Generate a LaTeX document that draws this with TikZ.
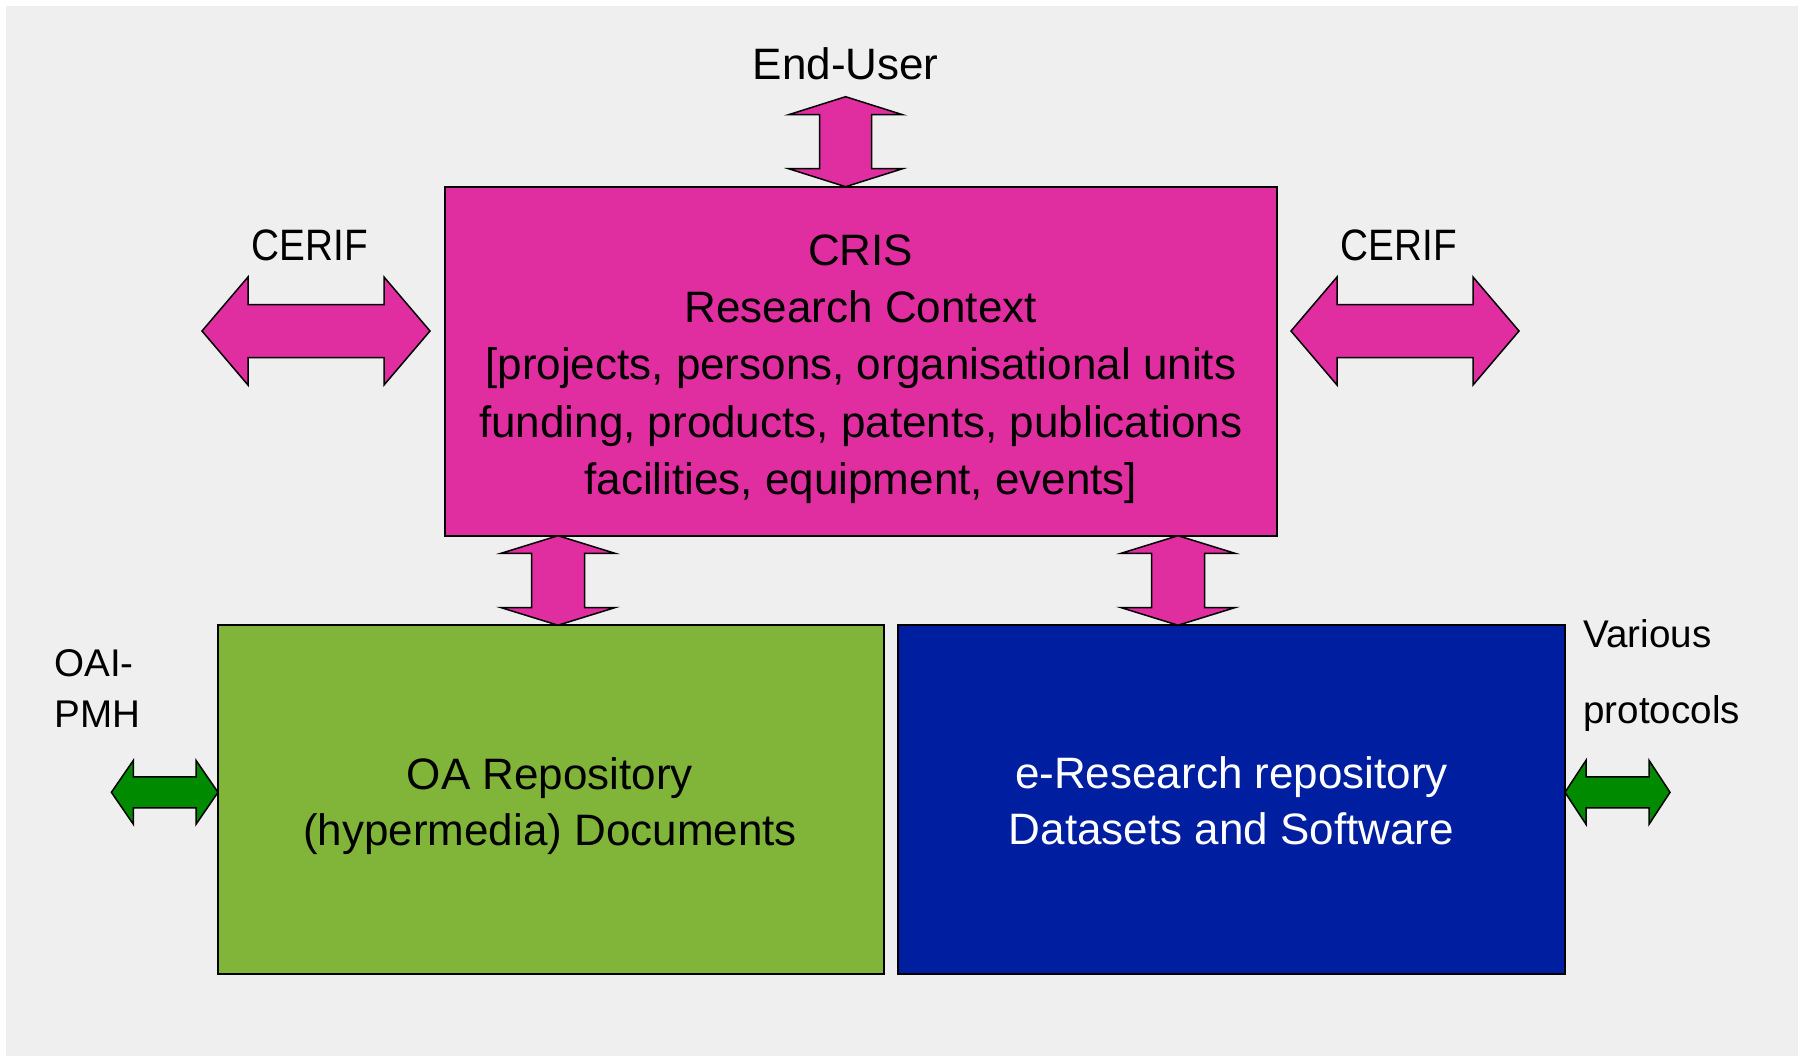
\documentclass[tikz,border=0pt]{standalone}
\usepackage{fontspec}
\setmainfont{Liberation Sans}
\usetikzlibrary{calc}
\definecolor{bggrey}{HTML}{EFEFEF}
\definecolor{crispink}{HTML}{E02DA0}
\definecolor{oagreen}{HTML}{80B53A}
\definecolor{erblue}{HTML}{001EA0}
\definecolor{arrgreen}{HTML}{008A00}
% vertical fat double arrow: style, top tip coordinate, length, head length, wing half-width, shaft half-width
\newcommand\fatvarrow[6]{%
  \draw[#1,shift={(#2)}] (0,0) -- (#5,#4) -- (#6,#4) -- (#6,#3-#4) -- (#5,#3-#4) -- (0,#3)
    -- (-#5,#3-#4) -- (-#6,#3-#4) -- (-#6,#4) -- (-#5,#4) -- cycle;}
% horizontal fat double arrow: style, left tip coordinate, length, head length, wing half-height, shaft half-height
\newcommand\fatharrow[6]{%
  \draw[#1,shift={(#2)}] (0,0) -- (#4,-#5) -- (#4,-#6) -- (#3-#4,-#6) -- (#3-#4,-#5) -- (#3,0)
    -- (#3-#4,#5) -- (#3-#4,#6) -- (#4,#6) -- (#4,#5) -- cycle;}
\begin{document}
\begin{tikzpicture}[x=0.5pt,y=-0.5pt,
  box/.style={draw=black,line width=1pt,rectangle,inner sep=0pt,outer sep=0pt},
  pinkarrow/.style={draw=black,line width=0.75pt,fill=crispink,line join=miter},
  greenarrow/.style={draw=black,line width=0.75pt,fill=arrgreen,line join=miter},
  bigtext/.style={font=\fontsize{22pt}{28.6pt}\selectfont,align=center,inner sep=0pt},
  boxtext/.style={font=\fontsize{22pt}{28pt}\selectfont,align=center,inner sep=0pt},
  smalltext/.style={font=\fontsize{19.3pt}{25.5pt}\selectfont,align=left,inner sep=0pt}]
\useasboundingbox (0,0) rectangle (1798,1056);
\fill[white] (0,0) rectangle (1798,1056);
\fill[bggrey] (6,6) rectangle (1798,1056);

% boxes
\node[box,fill=crispink,minimum width=416.25pt,minimum height=174.35pt] (cris) at (860.75,361.35) {};
\node[box,fill=oagreen,minimum width=333pt,minimum height=174.2pt] (oarepo) at (551,799.5) {};
\node[box,fill=erblue,minimum width=333.25pt,minimum height=174.2pt] (eres) at (1231.25,799.5) {};

% box texts
\node[bigtext] (crislbl) at (860.75,369) {CRIS\\Research Context\\{[}projects, persons, organisational units\\funding, products, patents, publications\\facilities, equipment, events]};
\node[boxtext] (oalbl) at (550,806.5) {OA Repository\\(hypermedia) Documents};
\node[boxtext,text=white] (erlbl) at (1231.5,801) {e-Research repository\\Datasets and Software};

% outside labels
\node[bigtext,anchor=base] (enduser) at (845.7,79) {End-User};
\node[bigtext,anchor=base] (cerifl) at (310,260) {\addfontfeature{FakeStretch=0.88}CERIF};
\node[bigtext,anchor=base] (cerifr) at (1399,260) {\addfontfeature{FakeStretch=0.88}CERIF};
\node[smalltext,anchor=west] (oaipmh) at (54,688.75) {OAI-\\PMH};
\node[font=\fontsize{19.3pt}{37.8pt}\selectfont,align=left,inner sep=0pt,anchor=west] (various) at (1583,675.75) {Various\\protocols};

% arrow end points
\coordinate (eu) at (845.6,96.7);
\coordinate (bl) at (558,535.7);
\coordinate (br) at (1178,535.7);
\coordinate (cl) at (202,331);
\coordinate (cr) at (1291,331);
\coordinate (gl) at (111.4,792.3);
\coordinate (gr) at (1565,792.3);

% pink arrows
\fatvarrow{pinkarrow}{eu}{90}{18}{57}{26}
\fatvarrow{pinkarrow}{bl}{89.5}{17.6}{57}{26.5}
\fatvarrow{pinkarrow}{br}{89.5}{17.6}{57}{26.5}
\fatharrow{pinkarrow}{cl}{228}{46}{54}{26.5}
\fatharrow{pinkarrow}{cr}{228}{46}{54}{26.5}
% green arrows
\fatharrow{greenarrow}{gl}{106.6}{22}{32}{15.5}
\fatharrow{greenarrow}{gr}{105}{21}{32}{15.5}
\end{tikzpicture}
\end{document}
